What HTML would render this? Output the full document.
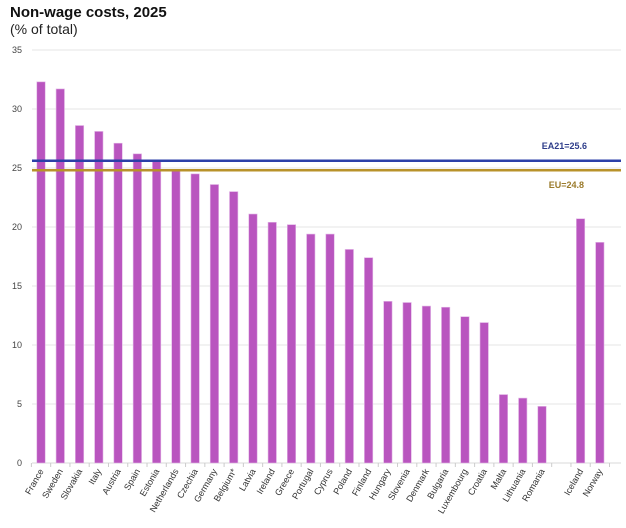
<!DOCTYPE html>
<html><head><meta charset="utf-8"><style>body{margin:0;background:#fff}</style></head><body>
<svg width="626" height="523" xmlns="http://www.w3.org/2000/svg" font-family="Liberation Sans, Arial, sans-serif">
<text x="10" y="17" font-size="15" font-weight="bold" fill="#111">Non-wage costs, 2025</text>
<text x="10" y="34" font-size="14" fill="#222">(% of total)</text>
<g id="grid"></g>
<g id="bars"></g>
<line x1="32" x2="621" y1="160.8" y2="160.8" stroke="#2b3fa8" stroke-width="2.5"/>
<line x1="32" x2="621" y1="170.3" y2="170.3" stroke="#b8922a" stroke-width="2.5"/>
<text x="587" y="149" font-size="9" font-weight="bold" fill="#2e3d8a" text-anchor="end">EA21=25.6</text>
<text x="584" y="188" font-size="9" font-weight="bold" fill="#9a7a2a" text-anchor="end">EU=24.8</text>
<g id="labels"></g>
</svg>
<script>
const ns="http://www.w3.org/2000/svg";
const g=document.getElementById('grid'),b=document.getElementById('bars'),l=document.getElementById('labels');
const Y=v=>463-v*59/5;
for(let v=0;v<=35;v+=5){const y=Y(v);
 const ln=document.createElementNS(ns,'line');ln.setAttribute('x1',32);ln.setAttribute('x2',621);ln.setAttribute('y1',y);ln.setAttribute('y2',y);ln.setAttribute('stroke',v==0?'#d8d8d8':'#e6e6e6');ln.setAttribute('stroke-width',1);g.appendChild(ln);
 const t=document.createElementNS(ns,'text');t.setAttribute('x',22);t.setAttribute('y',y+3);t.setAttribute('font-size',9);t.setAttribute('fill','#444');t.setAttribute('text-anchor','end');t.textContent=v;g.appendChild(t);}
const d=[["France",32.3],["Sweden",31.7],["Slovakia",28.6],["Italy",28.1],["Austria",27.1],["Spain",26.2],["Estonia",25.6],["Netherlands",24.8],["Czechia",24.5],["Germany",23.6],["Belgium*",23.0],["Latvia",21.1],["Ireland",20.4],["Greece",20.2],["Portugal",19.4],["Cyprus",19.4],["Poland",18.1],["Finland",17.4],["Hungary",13.7],["Slovenia",13.6],["Denmark",13.3],["Bulgaria",13.2],["Luxembourg",12.4],["Croatia",11.9],["Malta",5.8],["Lithuania",5.5],["Romania",4.8],null,["Iceland",20.7],["Norway",18.7]];
const s=19.27;
for(let i=0;i<=30;i++){const x=31.4+i*s;const tk=document.createElementNS(ns,'line');tk.setAttribute('x1',x);tk.setAttribute('x2',x);tk.setAttribute('y1',463);tk.setAttribute('y2',467);tk.setAttribute('stroke','#ccc');g.appendChild(tk);}
d.forEach((e,i)=>{if(!e)return;const cx=41+i*s;
 const r=document.createElementNS(ns,'rect');r.setAttribute('x',cx-4.2);r.setAttribute('width',8.4);r.setAttribute('y',Y(e[1]));r.setAttribute('height',463-Y(e[1]));r.setAttribute('fill','#b955bf');r.setAttribute('stroke','#e2b6e6');r.setAttribute('stroke-width','0.6');b.appendChild(r);
 const t=document.createElementNS(ns,'text');t.setAttribute('font-size',9);t.setAttribute('fill','#333');t.setAttribute('text-anchor','end');t.setAttribute('transform',`translate(${cx+3},471) rotate(-60)`);t.textContent=e[0];l.appendChild(t);});
</script>
</body></html>
